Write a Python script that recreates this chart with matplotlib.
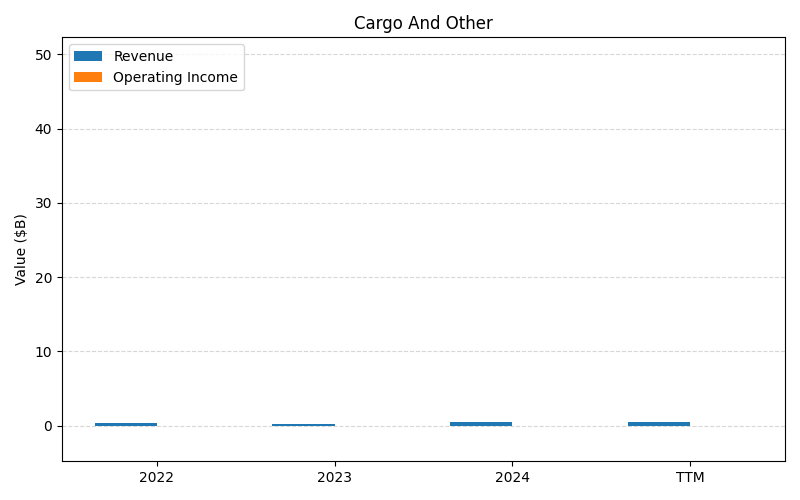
import matplotlib
matplotlib.use("Agg")
import matplotlib.pyplot as plt
import numpy as np

categories = ["2022", "2023", "2024", "TTM"]
revenue = [0.40, 0.25, 0.55, 0.55]
operating_income = [0.0, 0.0, 0.0, 0.0]

fig, ax = plt.subplots(figsize=(8, 5), dpi=100)
x = np.arange(len(categories))
w = 0.35
ax.bar(x - w/2, revenue, w, label="Revenue", color="#1f77b4")
ax.bar(x + w/2, operating_income, w, label="Operating Income", color="#ff7f0e")
ax.set_xticks(x)
ax.set_xticklabels(categories)
ax.set_ylim(-4.8, 52.3)
ax.set_ylabel("Value ($B)")
ax.set_title("Cargo And Other")
ax.grid(axis="y", linestyle="--", alpha=0.5)
ax.set_axisbelow(True)
ax.legend(loc="upper left")
fig.tight_layout()
fig.savefig("out.png")
